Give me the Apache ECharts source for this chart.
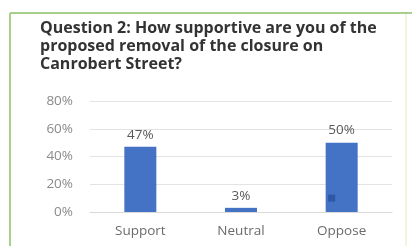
<!DOCTYPE html>
<html lang="en">
<head>
    <meta charset="utf-8"/>
    <title>Question 2</title>
    <script src="https://cdn.jsdelivr.net/npm/echarts@6/dist/echarts.min.js"></script>
    <style>
        html, body { margin: 0; padding: 0; background: #fff; }
        #chart { width: 412px; height: 246px; }
    </style>
</head>
<body>
    <div id="chart"></div>
    <script>
        // survey answers, share of respondents
        const categories = ['Support', 'Neutral', 'Oppose'];
        const shares = [0.47, 0.03, 0.50];
        const yTicks = [0, 0.2, 0.4, 0.6, 0.8];

        const chart = echarts.init(document.getElementById('chart'), null, { renderer: 'canvas' });
        const font = '"Open Sans", "Noto Sans", sans-serif';
        const option = {
            animation: false,
            graphic: [
                // green frame around the slide box
                { type: 'line', shape: { x1: 10, y1: 13, x2: 412, y2: 13 }, style: { stroke: '#a9cf8c', lineWidth: 2 } },
                { type: 'line', shape: { x1: 10, y1: 13, x2: 10, y2: 246 }, style: { stroke: '#a9cf8c', lineWidth: 2 } },
                { type: 'line', shape: { x1: 406, y1: 14, x2: 406, y2: 246 }, style: { stroke: '#eef6e2', lineWidth: 2 } },
                {
                    type: 'text', left: 40, top: 19,
                    style: {
                        text: 'Question 2: How supportive are you of the\nproposed removal of the closure on\nCanrobert Street?',
                        font: 'bold 16px ' + font,
                        fill: '#333333',
                        lineHeight: 18
                    }
                }
            ],
            grid: { left: 90, right: 20, top: 101, bottom: 34 },
            xAxis: {
                type: 'category',
                data: categories,
                axisLine: { lineStyle: { color: '#d9d9d9' } },
                axisTick: { show: false },
                axisLabel: { color: '#6b6b6b', fontFamily: font, fontSize: 13.5, margin: 12 }
            },
            yAxis: {
                type: 'value',
                min: 0,
                max: 0.8,
                interval: 0.2,
                axisLine: { show: false },
                axisTick: { show: false },
                splitLine: { lineStyle: { color: '#e3e3e3' } },
                axisLabel: {
                    color: '#8a8a8a', fontFamily: font, fontSize: 13.5, margin: 17,
                    formatter: function (v) {
                        const t = yTicks.find(function (x) { return Math.abs(x - v) < 1e-6; });
                        return Math.round((t !== undefined ? t : v) * 100) + '%';
                    }
                }
            },
            series: [{
                type: 'bar',
                data: shares,
                barWidth: 32,
                itemStyle: { color: '#4472c4' },
                label: {
                    show: true,
                    position: 'top',
                    distance: 5,
                    color: '#595959',
                    fontFamily: font,
                    fontSize: 13.5,
                    formatter: function (p) { return Math.round(p.value * 100) + '%'; }
                },
                // small dark speck visible on the Oppose bar
                markPoint: {
                    symbol: 'rect',
                    symbolSize: 7,
                    symbolOffset: [-10, 0],
                    label: { show: false },
                    itemStyle: { color: '#2e57a6' },
                    data: [{ coord: ['Oppose', 0.1] }]
                }
            }]
        };
        chart.setOption(option);
    </script>
</body>
</html>
